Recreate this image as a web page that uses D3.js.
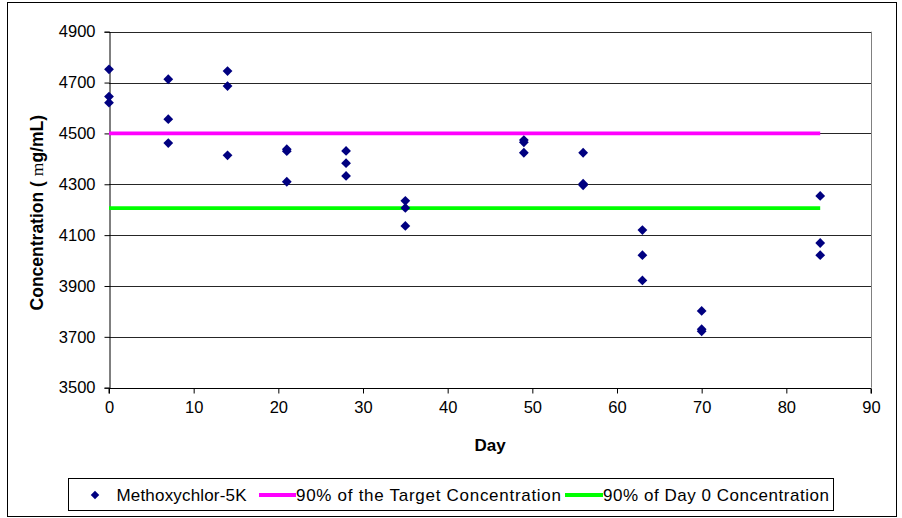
<!DOCTYPE html>
<html>
<head>
<meta charset="utf-8">
<script src="https://cdn.jsdelivr.net/npm/d3@7"></script>
<style>
  html, body { margin: 0; padding: 0; background: #fff; }
  svg { display: block; font-family: Arial, "Liberation Sans", sans-serif; }
</style>
</head>
<body>
<svg id="chart" width="902" height="518"></svg>
<script>
// Measured concentrations by sampling day
const days = [0, 0, 0, 7, 7, 7, 14, 14, 14, 21, 21, 21, 28, 28, 28, 35, 35, 35,
              49, 49, 49, 56, 56, 56, 63, 63, 63, 70, 70, 70, 84, 84, 84];
const concentrations = [4752, 4645, 4621, 4713, 4556, 4462, 4745, 4686, 4414,
                        4438, 4430, 4310, 4431, 4383, 4333, 4235, 4207, 4136,
                        4474, 4465, 4424, 4424, 4302, 4296, 4120, 4021, 3922,
                        3802, 3730, 3722, 4254, 4069, 4021];

// Reference levels drawn across the study period
const lineDays = [0, 84];
const targetLevel = [4500, 4500];
const day0Level = [4206, 4206];

const xTicks = [0, 10, 20, 30, 40, 50, 60, 70, 80, 90];
const yTicks = [3500, 3700, 3900, 4100, 4300, 4500, 4700, 4900];

const seriesNames = ["Methoxychlor-5K", "90% of the Target Concentration", "90% of Day 0 Concentration"];

const svg = d3.select("#chart");
const plotLeft = 109, plotRight = 871, plotTop = 31.7, plotBottom = 387.7;

const x = d3.scaleLinear().domain([0, 90]).range([plotLeft, plotRight]);
const y = d3.scaleLinear().domain([3500, 4900]).range([plotBottom, plotTop]);

// Outer chart frame
svg.append("rect")
  .attr("x", 7.5).attr("y", 2.5).attr("width", 889).attr("height", 514)
  .attr("fill", "#fff").attr("stroke", "#000").attr("stroke-width", 1);

// Plot area border (right side gray)
svg.append("line")
  .attr("x1", plotRight + 0.5).attr("x2", plotRight + 0.5)
  .attr("y1", plotTop).attr("y2", plotBottom)
  .attr("stroke", "#808080").attr("stroke-width", 1);

// Horizontal gridlines
svg.append("g")
  .selectAll("line")
  .data(yTicks.filter(t => t > 3500))
  .join("line")
  .attr("x1", plotLeft).attr("x2", plotRight)
  .attr("y1", d => Math.round(y(d)) + 0.5).attr("y2", d => Math.round(y(d)) + 0.5)
  .attr("stroke", "#262626").attr("stroke-width", 1);

// Axes
const xAxis = d3.axisBottom(x).tickValues(xTicks).tickSize(5).tickPadding(8).tickFormat(d3.format("d"));
const yAxis = d3.axisLeft(y).tickValues(yTicks).tickSize(5).tickPadding(9).tickFormat(d3.format("d"));

const gx = svg.append("g").attr("transform", `translate(0,${Math.round(plotBottom) + 0.5})`).call(xAxis);
const gy = svg.append("g").attr("transform", `translate(${plotLeft + 0.5},0)`).call(yAxis);

[gx, gy].forEach(g => {
  g.select(".domain").attr("stroke", "#000");
  g.selectAll(".tick line").attr("stroke", "#000");
  g.selectAll(".tick text")
    .attr("fill", "#000")
    .style("font-family", "Arial, 'Liberation Sans', sans-serif")
    .style("font-size", "16.5px");
});
gx.select(".domain").attr("d", `M${plotLeft},5V0H${plotRight}V5`);

// Axis titles
svg.append("text")
  .attr("x", x(45)).attr("y", 451)
  .attr("text-anchor", "middle")
  .style("font-weight", "bold").style("font-size", "17px")
  .text("Day");

const yTitle = svg.append("text")
  .attr("transform", `translate(43,${(plotTop + plotBottom) / 2 + 3}) rotate(-90)`)
  .attr("text-anchor", "middle")
  .style("font-weight", "bold").style("font-size", "17.5px");
yTitle.append("tspan").text("Concentration ( ");
yTitle.append("tspan").style("font-family", "'Liberation Serif', 'DejaVu Serif', serif").style("font-weight", "normal").text("m");
yTitle.append("tspan").text("g/mL)");

// Reference lines
const line = d3.line().x(d => x(d[0])).y(d => y(d[1]));
svg.append("path")
  .datum(lineDays.map((d, i) => [d, targetLevel[i]]))
  .attr("d", line)
  .attr("fill", "none").attr("stroke", "#ff00ff").attr("stroke-width", 3.8);
svg.append("path")
  .datum(lineDays.map((d, i) => [d, day0Level[i]]))
  .attr("d", line)
  .attr("fill", "none").attr("stroke", "#00ff00").attr("stroke-width", 3.8);

// Data markers (diamonds)
const diamond = d3.symbol().type(d3.symbolSquare).size(48);
svg.append("g")
  .selectAll("path")
  .data(days.map((d, i) => [d, concentrations[i]]))
  .join("path")
  .attr("d", diamond)
  .attr("transform", d => `translate(${x(d[0])},${y(d[1])}) rotate(45)`)
  .attr("fill", "#000080");

// Legend
const legend = svg.append("g");
legend.append("rect")
  .attr("x", 68.5).attr("y", 478.5).attr("width", 765).attr("height", 32)
  .attr("fill", "#fff").attr("stroke", "#000").attr("stroke-width", 1);

const legendY = 495;
legend.append("path")
  .attr("d", d3.symbol().type(d3.symbolSquare).size(36))
  .attr("transform", `translate(95,${legendY}) rotate(45)`)
  .attr("fill", "#000080");
legend.append("line")
  .attr("x1", 259).attr("x2", 296).attr("y1", legendY).attr("y2", legendY)
  .attr("stroke", "#ff00ff").attr("stroke-width", 3.8);
legend.append("line")
  .attr("x1", 565).attr("x2", 603).attr("y1", legendY).attr("y2", legendY)
  .attr("stroke", "#00ff00").attr("stroke-width", 3.8);

const legendX = [116.5, 296, 603];
const legendW = [130, 265, 226];
legend.selectAll("text.lbl")
  .data(seriesNames)
  .join("text")
  .attr("class", "lbl")
  .attr("x", (d, i) => legendX[i]).attr("y", legendY + 6)
  .attr("textLength", (d, i) => legendW[i])
  .attr("lengthAdjust", "spacing")
  .style("font-size", "17px")
  .attr("fill", "#000")
  .text(d => d);
</script>
</body>
</html>
